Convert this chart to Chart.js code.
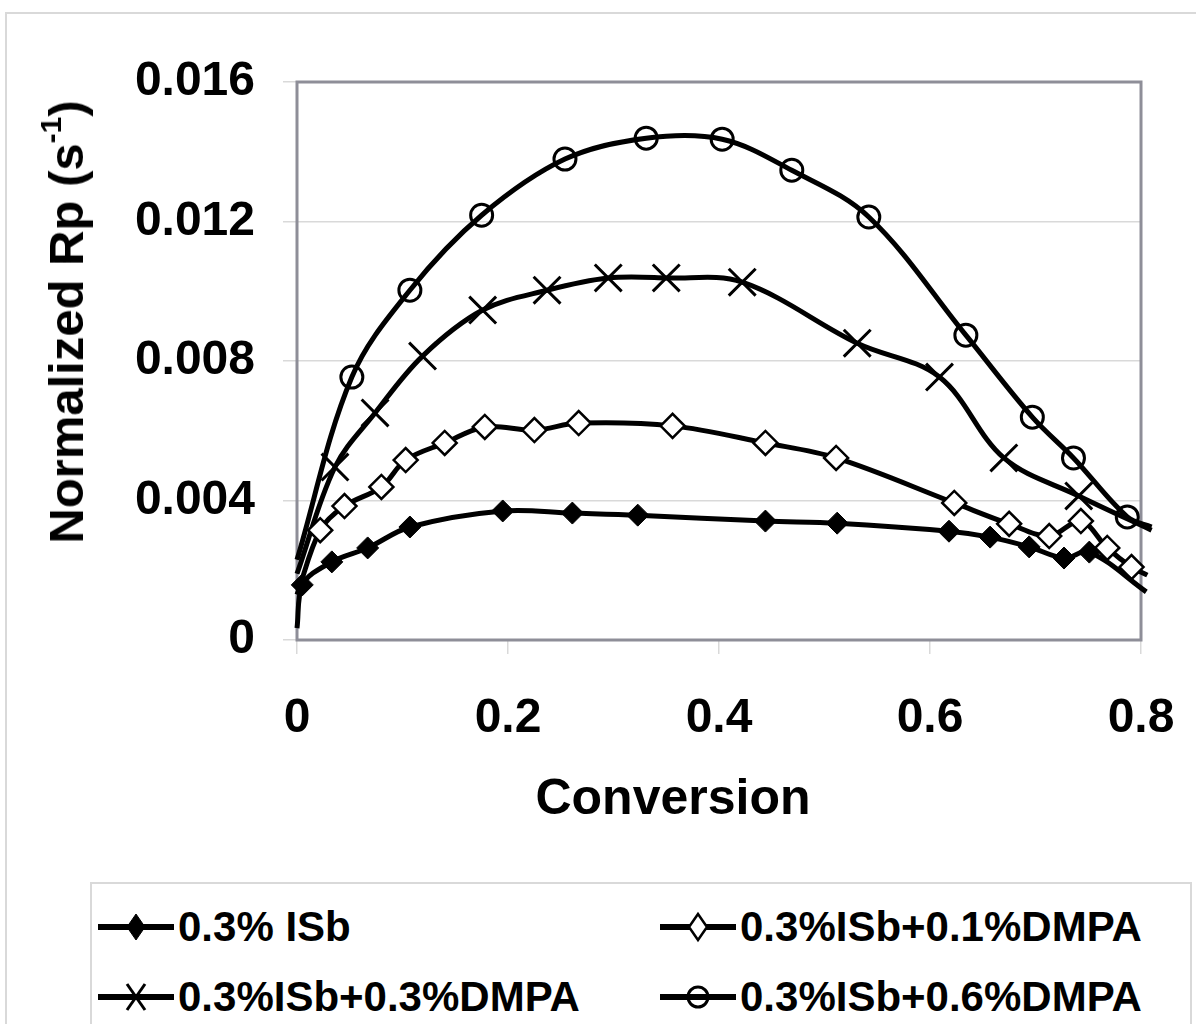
<!DOCTYPE html>
<html>
<head>
<meta charset="utf-8">
<script src="https://cdn.jsdelivr.net/npm/chart.js@4.4.1/dist/chart.umd.min.js"></script>
<style>
    body {
        margin: 0;
        width: 1196px;
        height: 1024px;
        overflow: hidden;
        background: #ffffff;
        position: relative;
        font-family: 'Liberation Sans', Arial, sans-serif;
    }

    .outerFrame {
        position: absolute;
        left: 5px;
        top: 12px;
        width: 1200px;
        height: 1020px;
        border: 2px solid #d9d9d9;
    }

    .chartBox {
        position: absolute;
        left: 0;
        top: 0;
    }

    .yTitle {
        position: absolute;
        left: 66px;
        top: 322px;
        transform: translate(-50%, -50%) rotate(-90deg);
        white-space: nowrap;
        font-weight: bold;
        font-size: 49px;
        color: #000;
    }

    .yTitle sup {
        font-size: 30px;
        vertical-align: 22px;
        line-height: 0;
    }

    .xTitle {
        position: absolute;
        left: 673px;
        top: 797px;
        transform: translate(-50%, -50%);
        white-space: nowrap;
        font-weight: bold;
        font-size: 50px;
        color: #000;
    }

    .legendBox {
        position: absolute;
        left: 90px;
        top: 882px;
        width: 1098px;
        height: 160px;
        border: 2px solid #d9d9d9;
        background: #fff;
    }

    .legendItem {
        position: absolute;
        display: flex;
        align-items: center;
        font-weight: bold;
        font-size: 42px;
        color: #000;
        white-space: nowrap;
    }

    .legendItem svg {
        margin-right: 4px;
    }
</style>
</head>
<body>
<div class="outerFrame"></div>
<div class="chartBox"><canvas id="rpChart" width="1196" height="830"></canvas></div>
<div class="yTitle">Normalized Rp (s<sup>-1</sup>)</div>
<div class="xTitle">Conversion</div>
<div class="legendBox" id="legendBox"></div>

<script>
const seriesLabels = ['0.3% ISb', '0.3%ISb+0.1%DMPA', '0.3%ISb+0.3%DMPA', '0.3%ISb+0.6%DMPA'];
const xTickLabels = ['0', '0.2', '0.4', '0.6', '0.8'];
const yTickLabels = ['0', '0.004', '0.008', '0.012', '0.016'];

// 0.3% ISb
const conv1 = [0, 0.005, 0.033, 0.067, 0.107, 0.195, 0.261, 0.323, 0.444, 0.512, 0.618, 0.657, 0.694, 0.727, 0.751, 0.805];
const rate1 = [0.00034, 0.00158, 0.00224, 0.00264, 0.00324, 0.0037, 0.00364, 0.00358, 0.00341, 0.00335, 0.00312, 0.00295, 0.00267, 0.00235, 0.00252, 0.00138];

// 0.3%ISb+0.1%DMPA
const conv2 = [0, 0.022, 0.045, 0.080, 0.103, 0.140, 0.178, 0.225, 0.267, 0.356, 0.444, 0.511, 0.623, 0.675, 0.713, 0.743, 0.768, 0.791, 0.806];
const rate2 = [0.0013, 0.00315, 0.00384, 0.00439, 0.00516, 0.00565, 0.00611, 0.00602, 0.00622, 0.00614, 0.00565, 0.00522, 0.00393, 0.00333, 0.00298, 0.00341, 0.00264, 0.00209, 0.00186];

// 0.3%ISb+0.3%DMPA
const conv3 = [0, 0.036, 0.074, 0.119, 0.176, 0.237, 0.295, 0.350, 0.422, 0.531, 0.609, 0.670, 0.741, 0.810];
const rate3 = [0.0019, 0.00496, 0.00651, 0.00814, 0.00946, 0.01003, 0.01038, 0.01038, 0.01026, 0.00851, 0.00754, 0.00522, 0.00413, 0.00315];

// 0.3%ISb+0.6%DMPA
const conv4 = [0, 0.052, 0.107, 0.175, 0.254, 0.331, 0.403, 0.469, 0.542, 0.634, 0.697, 0.736, 0.787, 0.810];
const rate4 = [0.0023, 0.00754, 0.01003, 0.01218, 0.01379, 0.01439, 0.01436, 0.01347, 0.01213, 0.00874, 0.00639, 0.00522, 0.00353, 0.00324];


function toPoints(xs, ys) {
    return xs.map((x, i) => ({ x: x, y: ys[i] }));
}


function markerRadius(size) {
    // first and last points of each curve carry no marker in the original
    return (ctx) => {
        const last = ctx.dataset.data.length - 1;
        return (ctx.dataIndex === 0 || ctx.dataIndex === last) ? 0 : size;
    };
}


function makeDataset(label, xs, ys, style, size, fill, markerBorder) {
    return {
        label: label,
        data: toPoints(xs, ys),
        borderColor: '#000',
        borderWidth: 5,
        pointStyle: style,
        pointRadius: markerRadius(size),
        pointHoverRadius: markerRadius(size),
        pointBackgroundColor: fill,
        pointBorderColor: '#000',
        pointBorderWidth: markerBorder,
        tension: 0.35,
        clip: false,
        fill: false
    };
}


const plotFrame = {
    id: 'plotFrame',
    beforeDatasetsDraw(chart) {
        const a = chart.chartArea;
        const ctx = chart.ctx;
        ctx.save();
        ctx.strokeStyle = '#8e8e98';
        ctx.lineWidth = 3;
        ctx.strokeRect(a.left, a.top, a.right - a.left, a.bottom - a.top);
        ctx.restore();
    }
};


function fitXScale(scale) {
    scale.height = 190;
    scale.paddingLeft = 0;
    scale.paddingRight = 0;
}


function drawChart() {
    Chart.defaults.font.family = "'Liberation Sans', Arial, sans-serif";
    const ctx = document.getElementById('rpChart');

    new Chart(ctx, {
        type: 'line',
        data: {
            datasets: [
                makeDataset(seriesLabels[0], conv1, rate1, 'rectRot', 11, '#000', 1),
                makeDataset(seriesLabels[1], conv2, rate2, 'rectRot', 12, '#fff', 2.5),
                makeDataset(seriesLabels[2], conv3, rate3, 'crossRot', 19, '#000', 3),
                makeDataset(seriesLabels[3], conv4, rate4, 'circle', 11, 'rgba(0,0,0,0)', 3)
            ]
        },
        options: {
            responsive: false,
            animation: false,
            layout: {
                padding: { left: 0, top: 82, right: 55, bottom: 0 }
            },
            plugins: {
                legend: { display: false },
                tooltip: { enabled: false }
            },
            scales: {
                x: {
                    type: 'linear',
                    min: 0,
                    max: 0.8,
                    afterFit: fitXScale,
                    ticks: {
                        stepSize: 0.2,
                        padding: 36,
                        color: '#000',
                        font: { size: 48, weight: 'bold' },
                        callback: (value, index) => xTickLabels[index]
                    },
                    grid: {
                        drawOnChartArea: false,
                        drawTicks: true,
                        tickLength: 14,
                        color: '#d9d9d9',
                        lineWidth: 1.5
                    },
                    border: { display: false }
                },
                y: {
                    min: 0,
                    max: 0.016,
                    afterFit: (scale) => { scale.width = 297; },
                    ticks: {
                        stepSize: 0.004,
                        padding: 28,
                        color: '#000',
                        font: { size: 48, weight: 'bold' },
                        callback: (value, index) => yTickLabels[index]
                    },
                    grid: {
                        drawTicks: true,
                        tickLength: 14,
                        color: '#d9d9d9',
                        lineWidth: 1.5
                    },
                    border: { display: false }
                }
            }
        },
        plugins: [plotFrame]
    });
}


function legendIcon(kind) {
    let marker = '';
    if (kind === 'filledDiamond') {
        marker = `<polygon points="38,7 47,20 38,33 29,20" fill="#000" stroke="#000" stroke-width="1"/>`;
    } else if (kind === 'openDiamond') {
        marker = `<polygon points="38,7 47,20 38,33 29,20" fill="#fff" stroke="#000" stroke-width="2.5"/>`;
    } else if (kind === 'cross') {
        marker = `<line x1="29" y1="7" x2="47" y2="33" stroke="#000" stroke-width="3"/>
                  <line x1="47" y1="7" x2="29" y2="33" stroke="#000" stroke-width="3"/>`;
    } else {
        marker = `<circle cx="38" cy="20" r="10" fill="none" stroke="#000" stroke-width="3"/>`;
    }
    return /*html*/`
    <svg width="76" height="40" viewBox="0 0 76 40">
        <line x1="0" y1="20" x2="76" y2="20" stroke="#000" stroke-width="6"/>
        ${marker}
    </svg>`;
}


function legendItem(label, kind, left, top) {
    return /*html*/`
    <div class="legendItem" style="left:${left}px; top:${top}px;">
        ${legendIcon(kind)}<span>${label}</span>
    </div>`;
}


function drawLegend() {
    const kinds = ['filledDiamond', 'openDiamond', 'cross', 'circle'];
    const lefts = [6, 568, 6, 568];
    const tops = [19, 19, 89, 89];
    let html = '';
    for (let i = 0; i < seriesLabels.length; i++) {
        html += legendItem(seriesLabels[i], kinds[i], lefts[i], tops[i]);
    }
    document.getElementById('legendBox').innerHTML = html;
}


drawChart();
drawLegend();
</script>
</body>
</html>
